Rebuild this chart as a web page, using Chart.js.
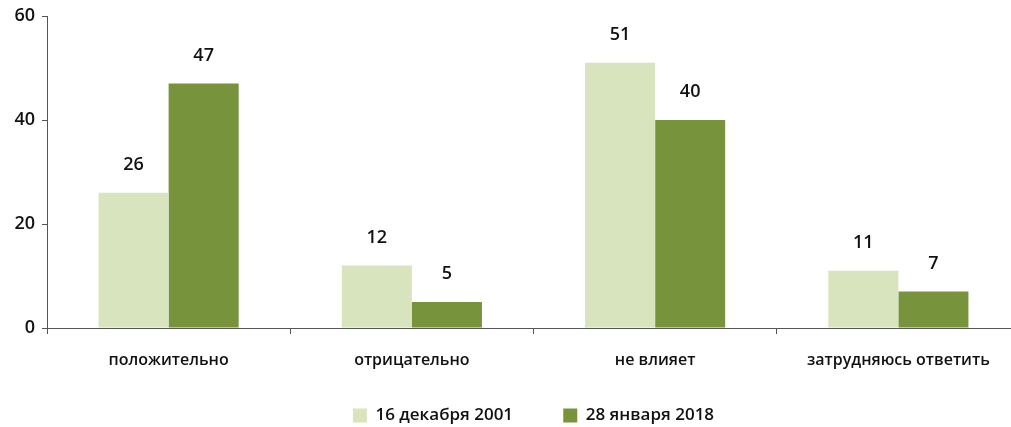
<!DOCTYPE html>
<html>
<head>
<meta charset="utf-8">
<script src="https://cdn.jsdelivr.net/npm/chart.js@4.4.0/dist/chart.umd.min.js"></script>
<style>
  html, body { margin: 0; padding: 0; background: #fff; overflow: hidden; }
  #wrap { width: 1020px; height: 427px; position: relative; }
</style>
</head>
<body>
<div id="wrap"><canvas id="barChart"></canvas></div>
<script>
const categories = ["положительно", "отрицательно", "не влияет", "затрудняюсь ответить"];
const series2001 = [26, 12, 51, 11];
const series2018 = [47, 5, 40, 7];
const seriesNames = ["16 декабря 2001", "28 января 2018"];
const yTicks = [0, 20, 40, 60];

const FONT = "'Open Sans', 'Noto Sans', sans-serif";

// value labels above each bar
const valueLabels = {
  id: "valueLabels",
  afterDatasetsDraw(chart) {
    const ctx = chart.ctx;
    ctx.save();
    ctx.font = "600 18px " + FONT;
    ctx.fillStyle = "#111";
    ctx.textAlign = "center";
    ctx.textBaseline = "middle";
    chart.data.datasets.forEach((ds, i) => {
      chart.getDatasetMeta(i).data.forEach((bar, j) => {
        ctx.fillText(ds.data[j], bar.x, bar.y - 28);
      });
    });
    ctx.restore();
  }
};

// legend sits centred over the plot area, not the whole canvas
const shiftLegend = {
  id: "shiftLegend",
  afterLayout(chart) {
    chart.legend.left += chart.chartArea.left;
    chart.legend.top += 7;
  }
};

const barData = {
  labels: categories,
  datasets: [
    {
      label: seriesNames[0] + "          ",
      data: series2001,
      backgroundColor: "#d7e4bd",
    },
    {
      label: seriesNames[1],
      data: series2018,
      backgroundColor: "#77933c",
    },
  ],
};

const barConfig = {
  type: "bar",
  data: barData,
  options: {
    responsive: true,
    maintainAspectRatio: false,
    animation: false,
    categoryPercentage: 0.576,
    barPercentage: 1,
    layout: { padding: { top: 16, left: 0, right: 0, bottom: 0 } },
    plugins: {
      tooltip: { enabled: false },
      legend: {
        position: "bottom",
        labels: {
          boxWidth: 14,
          boxHeight: 14,
          padding: 6,
          color: "#111",
          font: { family: FONT, size: 17, weight: "600" },
        },
      },
    },
    scales: {
      x: {
        offset: true,
        grid: {
          offset: true,
          drawOnChartArea: false,
          tickLength: 6,
          color: "#555",
        },
        border: { color: "#555", width: 1 },
        ticks: {
          padding: 17,
          color: "#111",
          font: { family: FONT, size: 16, weight: "600" },
          maxRotation: 0,
        },
        afterFit(scale) { scale.height = 66; },
      },
      y: {
        min: 0,
        max: 60,
        afterBuildTicks(scale) { scale.ticks = yTicks.map(v => ({ value: v })); },
        grid: {
          drawOnChartArea: false,
          tickLength: 5,
          color: "#555",
        },
        border: { color: "#555", width: 1 },
        ticks: {
          padding: 7,
          color: "#111",
          font: { family: FONT, size: 18, weight: "600" },
        },
        afterFit(scale) {
          scale.width = 47;
          scale.paddingTop = 0;
          scale.paddingBottom = 0;
        },
      },
    },
  },
  plugins: [valueLabels, shiftLegend],
};

var barChart = new Chart(document.getElementById("barChart"), barConfig);
</script>
</body>
</html>
